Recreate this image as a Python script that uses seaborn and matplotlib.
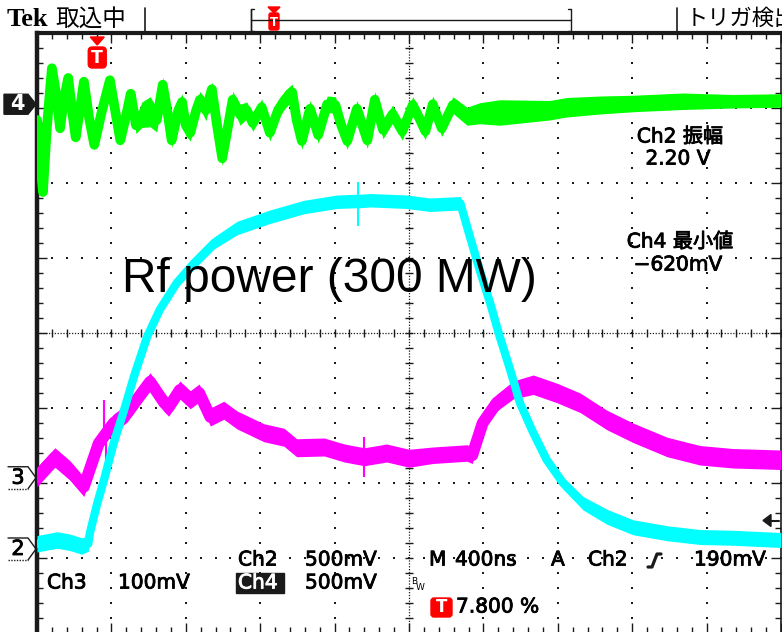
import numpy as np
import pandas as pd
import matplotlib
matplotlib.use("Agg")
import matplotlib.pyplot as plt
import matplotlib.transforms as mtransforms
import matplotlib.patheffects as pe
from matplotlib.patches import FancyBboxPatch, Polygon, Rectangle
from matplotlib.lines import Line2D
import seaborn as sns

# ---------------- data: screen divisions (x: 0..10 div, 400 ns/div; y: -4..4 div) ----------
ch4_t = [0.00, 0.04, 0.08, 0.13, 0.20, 0.26, 0.31, 0.36, 0.42, 0.47, 0.52, 0.58, 0.63, 0.70,
         0.77, 0.87, 0.98, 1.05, 1.12, 1.20, 1.26, 1.33, 1.41, 1.52, 1.61, 1.69, 1.76, 1.81,
         1.90, 1.95, 2.00, 2.06, 2.14, 2.19, 2.27, 2.35, 2.42, 2.49, 2.57, 2.63, 2.73, 2.82,
         2.90, 3.02, 3.13, 3.24, 3.33, 3.43, 3.49, 3.56, 3.67, 3.78, 3.90, 4.01, 4.09, 4.17,
         4.30, 4.44, 4.54, 4.65, 4.78, 4.91, 5.05, 5.15, 5.22, 5.32, 5.44, 5.59, 5.78, 5.95,
         6.22, 6.89, 7.12, 7.57, 8.01, 8.68, 9.35, 10.00]
ch4_v = [2.84, 2.31, 1.88, 2.71, 3.53, 3.17, 2.73, 3.11, 3.40, 2.97, 2.61, 3.00, 3.35, 2.87,
         2.51, 2.95, 3.37, 2.97, 2.57, 2.91, 3.19, 2.77, 2.91, 2.95, 2.84, 3.31, 2.91, 2.57,
         2.97, 3.08, 2.77, 2.67, 2.97, 3.11, 2.97, 3.25, 2.77, 2.33, 2.77, 3.11, 2.91, 2.97,
         2.80, 3.01, 2.67, 2.97, 3.11, 3.21, 2.84, 2.56, 2.99, 2.64, 3.05, 3.04, 2.77, 2.56,
         2.99, 2.57, 3.11, 2.71, 2.92, 2.69, 3.04, 2.84, 2.69, 3.05, 2.73, 3.04, 2.89, 2.93,
         2.94, 2.97, 3.01, 3.04, 3.06, 3.09, 3.09, 3.10]
ch4_hw = [0.07, 0.07, 0.07, 0.07, 0.07, 0.09, 0.07, 0.07, 0.07, 0.07, 0.07, 0.07, 0.07, 0.07,
          0.07, 0.07, 0.07, 0.07, 0.07, 0.07, 0.07, 0.11, 0.17, 0.20, 0.16, 0.10, 0.12, 0.10,
          0.12, 0.11, 0.14, 0.11, 0.13, 0.11, 0.14, 0.10, 0.12, 0.10, 0.12, 0.11, 0.14, 0.11,
          0.11, 0.11, 0.11, 0.11, 0.12, 0.11, 0.12, 0.11, 0.11, 0.11, 0.11, 0.11, 0.13, 0.11,
          0.11, 0.11, 0.11, 0.12, 0.12, 0.12, 0.11, 0.14, 0.11, 0.11, 0.11, 0.11, 0.12, 0.14,
          0.17, 0.13, 0.13, 0.12, 0.11, 0.11, 0.09, 0.09]

ch2_t = [0.00, 0.27, 0.44, 0.60, 0.69, 0.71, 0.81, 0.90, 1.03, 1.17, 1.30, 1.48, 1.65, 1.88,
         2.11, 2.38, 2.69, 3.13, 3.59, 4.03, 4.30, 4.34, 4.48, 4.97, 5.28, 5.69, 5.82, 5.95,
         6.09, 6.22, 6.36, 6.49, 6.67, 6.85, 7.07, 7.34, 7.66, 8.01, 8.47, 8.91, 9.35, 10.00]
ch2_v = [-2.81, -2.76, -2.79, -2.84, -2.81, -2.67, -2.27, -1.96, -1.47, -1.03, -0.59, -0.05,
         0.31, 0.67, 0.93, 1.20, 1.40, 1.55, 1.68, 1.75, 1.76, 1.76, 1.77, 1.75, 1.71, 1.73,
         1.28, 0.84, 0.40, -0.05, -0.49, -0.93, -1.33, -1.69, -2.00, -2.27, -2.45, -2.59,
         -2.67, -2.72, -2.73, -2.76]
ch2_hw = [0.11, 0.11, 0.11, 0.11, 0.10, 0.07, 0.06, 0.06, 0.06, 0.06, 0.06, 0.06, 0.06, 0.07,
          0.08, 0.08, 0.09, 0.09, 0.09, 0.09, 0.09, 0.09, 0.09, 0.09, 0.09, 0.09, 0.06, 0.06,
          0.06, 0.06, 0.06, 0.06, 0.06, 0.07, 0.08, 0.09, 0.10, 0.10, 0.10, 0.10, 0.10, 0.10]

ch3_t = [0.00, 0.24, 0.44, 0.63, 0.74, 0.83, 1.03, 1.21, 1.34, 1.52, 1.71, 1.77, 1.92, 2.06,
         2.18, 2.33, 2.51, 2.69, 3.05, 3.32, 3.49, 3.86, 4.13, 4.40, 4.70, 5.00, 5.32, 5.78,
         5.85, 5.99, 6.18, 6.40, 6.67, 6.99, 7.30, 7.66, 8.01, 8.47, 8.91, 9.35, 10.00]
ch3_v = [-1.92, -1.66, -1.83, -2.05, -1.73, -1.47, -1.20, -1.07, -0.89, -0.65, -0.93, -0.99,
         -0.76, -0.89, -0.80, -1.12, -1.03, -1.16, -1.33, -1.39, -1.53, -1.52, -1.60, -1.65,
         -1.60, -1.67, -1.63, -1.60, -1.63, -1.20, -0.93, -0.76, -0.69, -0.80, -0.93, -1.16,
         -1.33, -1.52, -1.63, -1.67, -1.69]
ch3_hw = [0.13] * 5 + [0.12] * 21 + [0.11, 0.11, 0.11, 0.10, 0.11, 0.12] + [0.13] * 9

ch2_spike_t, ch2_spike_lo, ch2_spike_hi = [4.31], [1.43], [2.01]
ch3_spike_t = [0.90, 0.93, 4.40]
ch3_spike_lo = [-1.47, -2.00, -1.92]
ch3_spike_hi = [-0.89, -1.33, -1.39]

ch_labels = ["4", "3", "2"]
ch_ground = [3.05, -1.93, -2.88]
trigger_pos = 0.81          # div from left
trigger_level = 0.19        # V on Ch2
ch2_scale = 0.5             # V/div

GREEN, CYAN, MAGENTA, RED = "#00ff00", "#00ffff", "#ff00ff", "#ff0000"

sns.set_theme(style="white")
plt.rcParams["font.family"] = ["DejaVu Sans", "Noto Sans CJK JP"]
plt.rcParams["text.color"] = "black"

W, H = 782, 632
fig = plt.figure(figsize=(W / 100, H / 100), dpi=100, facecolor="white")
pxT = mtransforms.Affine2D().scale(1 / W, -1 / H).translate(0, 1) + fig.transFigure

ax = fig.add_axes([37 / W, (H - 633) / H, 744 / W, 600 / H])
ax.set_xlim(0, 10)
ax.set_ylim(-4, 4)
ax.set_facecolor("white")

# ---------------- graticule ----------------
sub_x = np.arange(0, 10.001, 0.2)
sub_y = np.arange(-4, 4.001, 0.2)
for i in range(1, 10):
    if i == 5:
        continue
    ax.plot(np.full_like(sub_y, i), sub_y, ls="none", marker="s", ms=1.6, mew=0, color="k", zorder=1)
for j in range(-3, 4):
    if j == 0:
        continue
    ax.plot(sub_x, np.full_like(sub_x, j), ls="none", marker="s", ms=1.6, mew=0, color="k", zorder=1)
ax.axvline(5, ls=(0, (1, 1.3)), lw=0.9, color="k", zorder=1)
ax.axhline(0, ls=(0, (1, 1.3)), lw=0.9, color="k", zorder=1)
ax.plot(np.full_like(sub_y, 5), sub_y, ls="none", marker="_", ms=6, mew=1.0, color="k", zorder=1)
ax.plot(sub_x, np.zeros_like(sub_x), ls="none", marker="|", ms=6, mew=1.0, color="k", zorder=1)

ax.set_xticks(range(0, 11))
ax.set_yticks(range(-4, 5))
ax.set_xticks(sub_x, minor=True)
ax.set_yticks(sub_y, minor=True)
ax.tick_params(which="both", direction="in", top=True, right=True, left=True, bottom=True,
               labelleft=False, labelbottom=False, color="k", width=1.0)
ax.tick_params(which="major", length=7)
ax.tick_params(which="minor", length=4)
for side, lw in [("left", 3.2), ("top", 3.0), ("right", 1.2), ("bottom", 1.2)]:
    ax.spines[side].set_color("k")
    ax.spines[side].set_linewidth(lw)
    ax.spines[side].set_visible(True)

# ---------------- traces ----------------
def trace(t, v, hw, color, lw, z):
    t = np.asarray(t); v = np.asarray(v); hw = np.asarray(hw)
    ax.fill_between(t, v - hw, v + hw, color=color, lw=0, zorder=z)
    df = pd.DataFrame({"t": t, "v": v})
    sns.lineplot(data=df, x="t", y="v", ax=ax, color=color, lw=lw, estimator=None,
                 sort=False, legend=False, zorder=z, solid_joinstyle="round",
                 solid_capstyle="round")

trace(ch4_t, ch4_v, ch4_hw, GREEN, 7.0, 3)
trace(ch3_t, ch3_v, ch3_hw, MAGENTA, 8.5, 4)
ax.vlines(ch3_spike_t, ch3_spike_lo, ch3_spike_hi, color=MAGENTA, lw=1.5, zorder=4)
trace(ch2_t, ch2_v, ch2_hw, CYAN, 6.0, 5)
ax.vlines(ch2_spike_t, ch2_spike_lo, ch2_spike_hi, color=CYAN, lw=1.5, zorder=5)
ax.set_xlabel(""); ax.set_ylabel("")

# ---------------- helpers in pixel space ----------------
def to_px_y(v):
    return H - ax.transData.transform((0, v))[1]

def to_px_x(t):
    return ax.transData.transform((t, 0))[0]

def line(xs, ys, **kw):
    fig.add_artist(Line2D(xs, ys, transform=pxT, **kw))

def txt(x, y, s, bold_px=0.6, **kw):
    kw.setdefault("fontsize", 14.5)
    kw.setdefault("va", "center")
    kw.setdefault("color", "black")
    t = fig.text(x, y, s, transform=pxT, **kw)
    if bold_px:
        t.set_path_effects([pe.withStroke(linewidth=bold_px, foreground=kw["color"])])
    return t

# header
txt(7, 19, "Tek", fontsize=19, fontweight="bold", family="Liberation Serif", bold_px=0)
txt(55, 19, "取込中", fontsize=17, bold_px=0)
line([145, 145], [8, 33], color="k", lw=1.2)
line([251, 251, 254], [31, 9, 9], color="k", lw=1.0)
line([251, 251, 254], [9, 31, 31], color="k", lw=1.0)
line([251, 571], [20, 20], color="k", lw=1.0)
line([571, 571, 568], [9, 31, 31], color="k", lw=1.0)
line([571, 568], [9, 9], color="k", lw=1.0)
line([677, 677], [8, 33], color="k", lw=1.2)
txt(686, 19, "トリガ検出", fontsize=16, bold_px=0)
fig.add_artist(Polygon([(268, 7), (280, 7), (274, 13)], closed=True, transform=pxT, color=RED))
fig.add_artist(FancyBboxPatch((269, 13), 10, 17, boxstyle="round,pad=0,rounding_size=2",
                              transform=pxT, color=RED))
txt(274, 22, "T", fontsize=8.5, color="white", fontweight="bold", ha="center", bold_px=0)

# trigger position marker
tx = to_px_x(trigger_pos)
fig.add_artist(Polygon([(tx - 7, 37), (tx + 7, 37), (tx, 45)], closed=True, transform=pxT,
                       color=RED, zorder=10))
fig.add_artist(FancyBboxPatch((tx - 9, 47), 18, 21, boxstyle="round,pad=0,rounding_size=4",
                              transform=pxT, color=RED, zorder=10))
txt(tx, 58, "T", fontsize=12.5, color="white", fontweight="bold", ha="center", zorder=11,
    bold_px=0)

# channel ground markers
for lab, g in zip(ch_labels, ch_ground):
    yc = to_px_y(g)
    if lab == "4":
        fig.add_artist(Polygon([(4, yc - 10), (28, yc - 10), (36, yc), (28, yc + 10), (4, yc + 10)],
                               closed=True, transform=pxT, color="k"))
        txt(17, yc, lab, fontsize=15, color="white", fontweight="bold", ha="center", bold_px=0)
    else:
        line([8, 28, 36, 28], [yc - 11, yc - 11, yc, yc + 11], color="k", lw=1.0)
        line([8, 28], [yc + 11, yc + 11], color="k", lw=1.0, ls=(0, (1, 1)))
        txt(18, yc, lab, fontsize=15, ha="center")

# trigger level arrow on right
ty = to_px_y(ch_ground[2] + trigger_level / ch2_scale)
fig.add_artist(Polygon([(763, ty), (771, ty - 6), (771, ty + 6)], closed=True, transform=pxT,
                       color="k", zorder=10))
line([770, 779], [ty, ty], color="k", lw=1.5, zorder=10)

# measurement readouts
txt(680, 137, "Ch2 振幅", ha="center", fontsize=14.5)
txt(678, 159, "2.20 V", ha="center", fontsize=14.5)
txt(680, 242, "Ch4 最小値", ha="center", fontsize=14.5)
txt(678, 265, "−620mV", ha="center", fontsize=14.5)

# big annotation
fig.text(122, 292, "Rf power (300 MW)", transform=pxT, fontsize=34.5,
         family="Liberation Sans", ha="left", va="baseline", color="black")

# bottom status lines
txt(238, 560, "Ch2")
txt(305, 560, "500mV")
txt(429, 560, "M")
txt(455, 560, "400ns")
txt(551, 560, "A")
txt(588, 560, "Ch2")
line([648, 652, 657, 661], [567, 567, 554, 554], color="k", lw=2.3)
txt(694, 560, "190mV")

txt(47, 583, "Ch3")
txt(118, 583, "100mV")
fig.add_artist(Rectangle((236, 573), 48, 20, transform=pxT, color="k"))
txt(238, 583, "Ch4", color="white")
txt(305, 583, "500mV")
txt(411, 581, "B", fontsize=6.5, bold_px=0)
txt(416, 588, "W", fontsize=6.5, bold_px=0)

fig.add_artist(FancyBboxPatch((431, 598), 21, 19, boxstyle="round,pad=0,rounding_size=3",
                              transform=pxT, color=RED))
txt(441.5, 607.5, "T", fontsize=12, color="white", fontweight="bold", ha="center", bold_px=0)
txt(456, 607, "7.800 %")

fig.savefig("out.png", dpi=100, facecolor="white")
